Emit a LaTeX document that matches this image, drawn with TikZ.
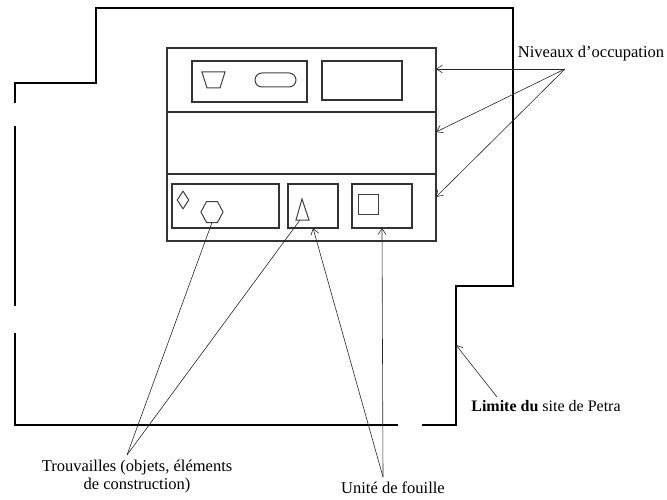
\documentclass[tikz,border=0pt]{standalone}
\usepackage{fontspec}
\setmainfont{Liberation Serif}
\usetikzlibrary{arrows.meta,shapes.geometric}
\begin{document}
\begin{tikzpicture}[x=1pt,y=-1pt,
  site/.style={line width=1.7pt,black},
  frame/.style={draw=black!80,line width=1.1pt,inner sep=0pt,outer sep=0pt},
  obj/.style={draw=black!75,line width=1pt},
  lbl/.style={font=\fontsize{16.5}{17.5}\selectfont,inner sep=1pt,align=center},
  pointer/.style={line width=0.6pt,black!85,-{Straight Barb[length=6pt,width=8pt]}},
  plain/.style={line width=0.6pt,black!85}]
\useasboundingbox (0,0) rectangle (667,500);
% site boundary
\draw[site] (15,103) -- (15,83) -- (96,83) -- (96,8) -- (513,8) -- (513,286) -- (456,286) -- (456,425) -- (422,425);
\draw[site] (398,425) -- (15,425) -- (15,333);
\draw[site] (15,306) -- (15,126);
\coordinate (bnd) at (456,345);
% excavation frame rows
\node[frame,minimum width=269pt,minimum height=64pt] (row1) at (301.5,80) {};
\node[frame,minimum width=269pt,minimum height=62pt] (row2) at (301.5,143) {};
\node[frame,minimum width=269pt,minimum height=67pt] (row3) at (301.5,207.5) {};
% boxes
\node[frame,minimum width=115pt,minimum height=41pt] (box1) at (249.5,81.5) {};
\node[frame,minimum width=80pt,minimum height=39pt] (box2) at (362,80.5) {};
\node[frame,minimum width=107pt,minimum height=44pt] (box3) at (225.5,206) {};
\node[frame,minimum width=50pt,minimum height=44pt] (box4) at (313,206) {};
\node[frame,minimum width=60pt,minimum height=44pt] (box5) at (382,206) {};
% objects
\draw[obj] (202,72) -- (225,72) -- (220,88) -- (207,88) -- cycle;
\node[obj,rounded corners=7pt,minimum width=41pt,minimum height=14pt,inner sep=0pt] (stad) at (275.5,80) {};
\node[obj,diamond,minimum width=12pt,minimum height=18pt,inner sep=0pt] (diam) at (183,200) {};
\draw[obj] (201,212) -- (206.5,201.5) -- (217.5,201.5) -- (223,212) -- (217.5,222.5) -- (206.5,222.5) -- cycle;
\coordinate (hex) at (212,222.5);
\draw[obj] (302,199) -- (309,220) -- (296,220) -- cycle;
\coordinate (tri) at (300,220);
\node[obj,minimum width=20pt,minimum height=19pt,inner sep=0pt] (sq) at (368,204.5) {};
% labels
\node[lbl] (niv) at (591,54) {Niveaux d’occupation};
\coordinate (nivp) at (565,69);
\node[lbl] (trv) at (137,476.5) {Trouvailles (objets, éléments\\de construction)};
\coordinate (trvp) at (127,455);
\node[lbl] (uni) at (393,488) {Unité de fouille};
\coordinate (unip) at (383,477);
\node[lbl,font=\fontsize{16}{19}\selectfont] (lim) at (546,406) {\textbf{Limite du} site de Petra};
\coordinate (limp) at (497,397);
% connectors
\draw[pointer] (nivp) -- ([yshift=11pt]row1.east);
\draw[pointer] (nivp) -- ([yshift=11pt]row2.east);
\draw[pointer] (nivp) -- ([yshift=10.5pt]row3.east);
\draw[plain] (trvp) -- (hex);
\draw[plain] (trvp) -- (tri);
\draw[pointer] (unip) -- (box4.south);
\draw[pointer] (unip) -- (box5.south);
\draw[pointer] (limp) -- (bnd);
\end{tikzpicture}
\end{document}
